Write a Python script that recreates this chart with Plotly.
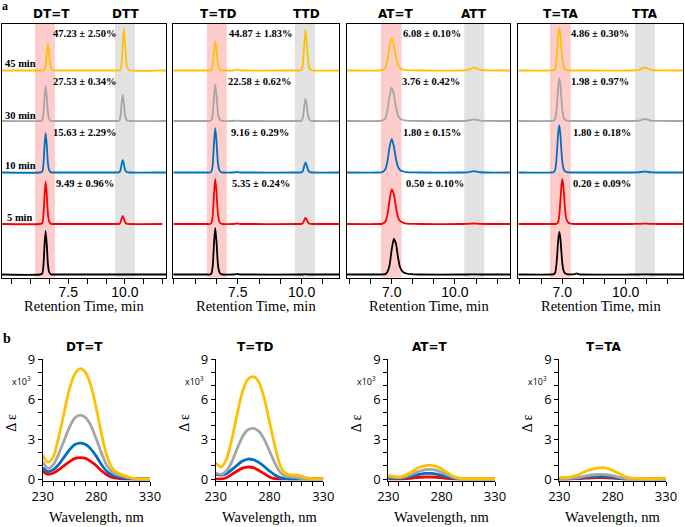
import plotly.graph_objects as go

W, H = 685, 527

def fx(px):
    return px / W

def fy(py):
    return 1 - py / H

# ---------------- Panel a: HPLC chromatograms (retention time, min) ----------------
DTT_TIME = [4.58, 6.25, 6.35, 6.4, 6.45, 6.5, 6.55, 6.6, 6.65, 6.7, 6.75, 6.8, 6.9, 7.1,
            9.6, 9.7, 9.75, 9.8, 9.85, 9.9, 9.95, 10.0, 10.05, 10.1, 10.2, 11.65, 11.81]
DTT_45MIN = [0, 0, 0, 0, 0.5, 4.4, 17, 26, 18, 6.5, 1.8, 0.5, 0, 0,
             0, 0, 0, 0.8, 7, 27, 42, 29, 10.5, 3, 0.3, 0, 0]
DTT_30MIN = [0, 0, 0.7, 6, 23, 35, 24.5, 8.8, 2.5, 0.7, 0, 0, 0, 0,
             0, 0, 0.5, 4.4, 17, 26, 18, 6.5, 1.8, 0.5, 0, 0, 0]
DTT_10MIN = [0, 0, 0.8, 6.7, 25.7, 39.5, 27.7, 9.9, 2.8, 0.8, 0, 0, 0, 0,
             0, 0, 0.25, 2.1, 8, 12.3, 8.6, 3.1, 0.9, 0.25, 0, 0, 0]
DTT_5MIN = [0, 0, 0.85, 7.2, 27.6, 42.5, 29.8, 10.6, 3, 0.85, 0, 0, 0, 0,
            0, 0, 0.15, 1.4, 5.2, 8, 5.6, 2, 0.55, 0.15, 0, 0, None]
DTT_0MIN = [0, 0, 0.9, 7.4, 28.3, 43.5, 30.5, 10.9, 3, 0.9, 0, 0, 0, 0,
            0, 0, 0, 0, 0, 0, 0, 0, 0, 0, 0, 0, 0]

TTD_TIME = [4.98, 6.32, 6.42, 6.47, 6.52, 6.57, 6.62, 6.67, 6.72, 6.77, 6.82, 6.92,
            7.3, 7.4, 7.47, 7.55, 7.7,
            9.85, 9.95, 10.0, 10.05, 10.1, 10.15, 10.2, 10.25, 10.3, 10.35, 10.45, 11.46]
TTD_45MIN = [0, 0, 0, 0.6, 4.9, 18.9, 29, 20.3, 7.3, 2, 0.6, 0,
             0, 0.3, 1.2, 0.3, 0,
             0, 0, 0.8, 6.9, 26.5, 40.7, 28.5, 10.2, 2.8, 0.8, 0, 0]
TTD_30MIN = [0, 0, 0, 0.7, 6.2, 23.9, 36.7, 25.7, 9.2, 2.6, 0.7, 0,
             0, 0.2, 0.4, 0.2, 0,
             0, 0, 0.4, 3.7, 14.3, 22, 15.4, 5.5, 1.5, 0.4, 0, 0]
TTD_10MIN = [0, 0, 0, 0.9, 7.5, 28.8, 44.3, 31, 11.1, 3.1, 0.9, 0,
             0, 0.2, 0.5, 0.2, 0,
             0, 0, 0.2, 1.7, 6.5, 10, 7, 2.5, 0.7, 0.2, 0, 0]
TTD_5MIN = [0, 0, 0, 0.9, 7.7, 29.3, 45, 31.5, 11.3, 3.2, 0.9, 0,
            0, 0.2, 0.5, 0.2, 0,
            0, 0, 0.1, 1, 3.9, 6, 4.2, 1.5, 0.4, 0.1, 0, 0]
TTD_0MIN = [0, 0, 0, 0.9, 7.9, 30.4, 46.7, 32.7, 11.7, 3.3, 0.9, 0,
            0, 0.2, 0.4, 0.2, 0,
            0, 0, 0, 0, 0.1, 0.3, 0.1, 0, 0, 0, 0, 0]

ATT_TIME = [4.88, 6.4, 6.55, 6.7, 6.8, 6.9, 7.0, 7.1, 7.2, 7.3, 7.4, 7.55, 7.7, 7.9, 8.3,
            10.3, 10.6, 10.75, 10.9, 11.05, 11.2, 11.5, 12.61]
ATT_45MIN = [0, 0, 0.3, 2.9, 10.7, 24.5, 32.3, 25.8, 13.6, 5.5, 2.3, 1, 0.3, 0.15, 0,
             0, 0.5, 1.8, 3, 1.9, 0.6, 0.1, 0]
ATT_30MIN = [0, 0, 0.3, 3, 11, 25.3, 33.3, 26.6, 14, 5.7, 2.3, 1, 0.3, 0.15, 0,
             0, 0.3, 1, 1.7, 1.1, 0.35, 0.05, 0]
ATT_10MIN = [0, 0, 0.35, 3.2, 11.5, 25.8, 33.7, 26.5, 13.8, 5.6, 2.3, 1, 0.3, 0.15, 0,
             0, 0.2, 0.8, 1.3, 0.8, 0.25, 0, 0]
ATT_5MIN = [0, 0, 0.2, 2.4, 9.5, 24, 34.5, 30, 17, 7, 2.8, 1.2, 0.4, 0.15, 0,
            0, 0.1, 0.3, 0.5, 0.3, 0.1, 0, 0]
ATT_0MIN = [0, 0, 0.05, 0.4, 2.7, 9.5, 25, 35.5, 31, 17, 7, 2.2, 1, 0.3, 0,
            0, 0, 0.1, 0.2, 0.1, 0, 0, 0]

TTA_TIME = [4.92, 6.5, 6.6, 6.66, 6.71, 6.76, 6.81, 6.86, 6.91, 6.96, 7.0, 7.05, 7.1, 7.15,
            7.2, 7.3, 7.45, 7.6, 7.68, 7.76, 7.9,
            10.3, 10.6, 10.75, 10.9, 11.05, 11.2, 11.5, 12.71]
TTA_45MIN = [0, 0, 0.4, 1.7, 7.2, 19.5, 34.7, 42.3, 36, 22, 11.5, 4.8, 1.9, 0.9,
             0.4, 0.2, 0, 0, 0, 0, 0,
             0, 0.5, 1.8, 3, 1.9, 0.6, 0.1, 0]
TTA_30MIN = [0, 0, 0.4, 1.7, 7.3, 19.7, 35, 42.7, 36.3, 22.2, 11.6, 4.8, 1.9, 0.9,
             0.4, 0.2, 0, 0, 0, 0, 0,
             0, 0.3, 1.2, 2, 1.3, 0.4, 0.05, 0]
TTA_10MIN = [0, 0, 0.6, 2.5, 9.5, 24, 40.5, 47, 38, 22, 11, 4.5, 1.8, 0.9,
             0.4, 0.2, 0, 0, 0, 0, 0,
             0, 0.15, 0.6, 1, 0.6, 0.2, 0, 0]
TTA_5MIN = [0, 0, 0, 0, 0.2, 0.7, 2.3, 9, 23, 38, 45, 38, 23.4, 10.8,
            4.5, 1, 0.2, 0, 0, 0, 0,
            0, 0.1, 0.25, 0.4, 0.25, 0.1, 0, 0]
TTA_0MIN = [0, 0, 0.4, 1.7, 7.3, 19.7, 35, 42.7, 36.3, 22.2, 11.6, 4.8, 1.9, 0.9,
            0.4, 0.2, 0.1, 0.4, 1.2, 0.4, 0,
            0, 0, 0.1, 0.2, 0.1, 0, 0, 0]

DTT_PCT = ["47.23 ± 2.50%", "27.53 ± 0.34%", "15.63 ± 2.29%", "9.49 ± 0.96%"]
TTD_PCT = ["44.87 ± 1.83%", "22.58 ± 0.62%", "9.16 ± 0.29%", "5.35 ± 0.24%"]
ATT_PCT = ["6.08 ± 0.10%", "3.76 ± 0.42%", "1.80 ± 0.15%", "0.50 ± 0.10%"]
TTA_PCT = ["4.86 ± 0.30%", "1.98 ± 0.97%", "1.80 ± 0.18%", "0.20 ± 0.09%"]
TIME_LABELS = ["45 min", "30 min", "10 min", "5 min"]

# ---------------- Panel b: CD spectra ----------------
WAVELENGTH = [230, 235, 240, 245, 250, 255, 260, 265, 270, 275, 280, 285, 290, 295, 300,
              305, 310, 315, 320, 325, 330]
CD_DTT_45 = [1.8, 1.25, 1.7, 3.2, 5.0, 6.8, 7.9, 8.3, 8.0, 7.0, 5.3, 3.3, 1.7, 0.8, 0.45,
             0.3, 0.15, 0.05, 0, 0, 0]
CD_DTT_30 = [1.3, 0.8, 1.1, 1.9, 2.9, 3.9, 4.6, 4.8, 4.6, 4.0, 3.0, 1.9, 1.0, 0.5, 0.3,
             0.2, 0.1, 0.03, 0, 0, 0]
CD_DTT_10 = [0.85, 0.55, 0.7, 1.1, 1.65, 2.2, 2.6, 2.7, 2.6, 2.25, 1.7, 1.05, 0.55, 0.3, 0.15,
             0.08, 0.03, 0, 0, 0, 0]
CD_DTT_5 = [0.6, 0.35, 0.45, 0.7, 1.0, 1.3, 1.55, 1.6, 1.55, 1.3, 1.0, 0.6, 0.3, 0.12, 0.05,
            0, 0, 0, 0, 0, 0]

CD_TTD_45 = [1.2, 0.9, 1.5, 3.0, 4.9, 6.6, 7.5, 7.7, 7.3, 6.1, 4.3, 2.5, 1.0, 0.4, 0.3,
             0.3, 0.2, 0.08, 0.03, 0, 0]
CD_TTD_30 = [0.45, 0.35, 0.6, 1.3, 2.3, 3.2, 3.7, 3.8, 3.6, 3.0, 2.1, 1.2, 0.5, 0.2, 0.15,
             0.1, 0.05, 0, 0, 0, 0]
CD_TTD_10 = [0.35, 0.3, 0.4, 0.7, 1.05, 1.35, 1.5, 1.45, 1.25, 0.95, 0.6, 0.3, 0.1, 0.03, 0,
             0, 0, 0, 0, 0, 0]
CD_TTD_5 = [0, 0, 0.1, 0.35, 0.6, 0.82, 0.9, 0.85, 0.65, 0.4, 0.15, 0.02, 0, 0, 0,
            0, 0, 0, 0, 0, 0]

CD_ATT_45 = [0.3, 0.2, 0.15, 0.25, 0.45, 0.7, 0.9, 1.0, 1.05, 0.95, 0.75, 0.5, 0.25, 0.08, 0.03,
             0.03, 0.03, 0.03, 0.03, 0.03, 0.03]
CD_ATT_30 = [0.2, 0.12, 0.1, 0.15, 0.3, 0.45, 0.6, 0.7, 0.72, 0.65, 0.5, 0.33, 0.15, 0.05, 0.05,
             0.05, 0.05, 0.05, 0.05, 0.05, 0.05]
CD_ATT_10 = [0.1, 0.05, 0.05, 0.1, 0.18, 0.28, 0.36, 0.42, 0.42, 0.37, 0.28, 0.17, 0.07, 0.02, 0,
             0, 0, 0, 0, 0, 0]
CD_ATT_5 = [0, 0, 0, 0.02, 0.05, 0.1, 0.13, 0.15, 0.15, 0.13, 0.1, 0.05, 0.02, 0, 0,
            0, 0, 0, 0, 0, 0]

CD_TTA_45 = [0.1, 0.12, 0.15, 0.25, 0.4, 0.58, 0.72, 0.82, 0.85, 0.8, 0.65, 0.45, 0.25, 0.1, 0.05,
             0.05, 0.03, 0.03, 0.03, 0.03, 0.08]
CD_TTA_30 = [0.02, 0.02, 0.04, 0.08, 0.15, 0.23, 0.3, 0.34, 0.35, 0.32, 0.25, 0.15, 0.07, 0.02, 0,
             0, 0, 0, 0, 0, 0]
CD_TTA_10 = [0, 0, 0.02, 0.04, 0.08, 0.13, 0.17, 0.2, 0.2, 0.18, 0.13, 0.07, 0.02, 0, 0,
             0, 0, 0, 0, 0, 0]
CD_TTA_5 = [0, 0, 0, 0.01, 0.03, 0.06, 0.08, 0.1, 0.1, 0.09, 0.06, 0.03, 0, 0, 0,
            0, 0, 0, 0, 0, 0]

# ---------------- styling ----------------
C_45, C_30, C_10, C_5, C_0 = "#FFC000", "#A5A5A5", "#0070C0", "#FF0000", "#000000"
SERIF = "Liberation Serif"
SANS = "Liberation Sans"
HEAD = "DejaVu Sans"
CALI = "Open Sans"

fig = go.Figure()
annotations = []
shapes = []

TOP_Y0, TOP_Y1 = 277.5, 24.0
Y_RANGE_TOP = [0, 253.5]
OFFSETS = [207, 156.5, 105, 53.5, 3]  # baselines for 45, 30, 10, 5, 0 min

minor_25 = [5.0, 5.8333, 6.6667, 7.5, 8.3333, 9.1667, 10.0, 10.8333, 11.6667]
major_25 = [7.5, 10.0]
text_25 = ["7.5", "10.0"]
minor_1 = [5, 6, 7, 8, 9, 10, 11, 12]
major_1 = [7, 10]
text_1 = ["7.0", "10.0"]

top_panels = [
    dict(l=2, r=166, rng=[4.577, 11.81], mn=minor_25, tv=major_25, tt=text_25,
         pink=(6.03, 6.91), gray=(9.56, 10.44),
         t=DTT_TIME, ys=[DTT_45MIN, DTT_30MIN, DTT_10MIN, DTT_5MIN, DTT_0MIN],
         pct=DTT_PCT, pctx=[84.5, 84.5, 84.5, 85], heads=[("DT=T", 51.7), ("DTT", 125.3)]),
    dict(l=173.3, r=339, rng=[4.98, 11.46], mn=minor_25, tv=major_25, tt=text_25,
         pink=(6.29, 7.07), gray=(9.74, 10.52),
         t=TTD_TIME, ys=[TTD_45MIN, TTD_30MIN, TTD_10MIN, TTD_5MIN, TTD_0MIN],
         pct=TTD_PCT, pctx=[260.7, 260, 260, 261.3], heads=[("T=TD", 218.3), ("TTD", 306.7)]),
    dict(l=347, r=510, rng=[4.88, 12.61], mn=minor_1, tv=major_1, tt=text_1,
         pink=(6.49, 7.47), gray=(10.44, 11.39),
         t=ATT_TIME, ys=[ATT_45MIN, ATT_30MIN, ATT_10MIN, ATT_5MIN, ATT_0MIN],
         pct=ATT_PCT, pctx=[432.2, 431.3, 432, 435], heads=[("AT=T", 395.7), ("ATT", 474.3)]),
    dict(l=518.3, r=683, rng=[4.92, 12.71], mn=minor_1, tv=major_1, tt=text_1,
         pink=(6.42, 7.40), gray=(10.44, 11.39),
         t=TTA_TIME, ys=[TTA_45MIN, TTA_30MIN, TTA_10MIN, TTA_5MIN, TTA_0MIN],
         pct=TTA_PCT, pctx=[600.3, 600.3, 601.7, 602], heads=[("T=TA", 560), ("TTA", 644.7)]),
]
colors = [C_45, C_30, C_10, C_5, C_0]
pct_y = [33.5, 81, 132, 183.3]

layout_axes = {}
for i, p in enumerate(top_panels):
    n = i + 1
    xa = "x" if n == 1 else f"x{n}"
    ya = "y" if n == 1 else f"y{n}"
    for ys, col, off in zip(p["ys"], colors, OFFSETS):
        fig.add_trace(go.Scatter(
            x=p["t"], y=[None if v is None else v + off for v in ys],
            mode="lines", line=dict(color=col, width=1.8, shape="spline", smoothing=0.6),
            xaxis=xa, yaxis=ya, showlegend=False, hoverinfo="skip"))
    layout_axes[f"xaxis{'' if n == 1 else n}"] = dict(
        domain=[fx(p["l"]), fx(p["r"])], range=p["rng"], anchor=ya, automargin=False,
        showline=True, linecolor="black", linewidth=1.2, mirror=True,
        ticks="outside", ticklen=5, tickcolor="black", tickwidth=1,
        tickmode="array", tickvals=p["tv"], ticktext=p["tt"], ticklabelstandoff=-4,
        minor=dict(tickmode="array", tickvals=p["mn"], ticks="outside", ticklen=5,
                   tickcolor="black", tickwidth=1, showgrid=False),
        showgrid=False, zeroline=False,
        tickfont=dict(family=SANS, size=14, color="black"))
    layout_axes[f"yaxis{'' if n == 1 else n}"] = dict(
        domain=[fy(TOP_Y0), fy(TOP_Y1)], range=Y_RANGE_TOP, anchor=xa, automargin=False,
        showline=True, linecolor="black", linewidth=1.2, mirror=True,
        showticklabels=False, ticks="", showgrid=False, zeroline=False)
    for (a, b), colr in [(p["pink"], "#FFCCCC"), (p["gray"], "#E2E2E2")]:
        shapes.append(dict(type="rect", xref=xa, yref=f"{ya} domain", x0=a, x1=b, y0=0, y1=1,
                           fillcolor=colr, line=dict(width=0), layer="below"))
    for txt, px_ in p["heads"]:
        annotations.append(dict(text=f"<b>{txt}</b>", x=fx(px_), y=fy(14), xref="paper", yref="paper",
                                showarrow=False, xanchor="center", yanchor="middle",
                                font=dict(family=HEAD, size=12, color="black")))
    for txt, px_, py_ in zip(p["pct"], p["pctx"], pct_y):
        annotations.append(dict(text=f"<b>{txt}</b>", x=fx(px_), y=fy(py_), xref="paper", yref="paper",
                                showarrow=False, xanchor="center", yanchor="middle",
                                font=dict(family=SERIF, size=10.5, color="black")))
    annotations.append(dict(text="Retention Time, min", x=fx((p["l"] + p["r"]) / 2), y=fy(306),
                            xref="paper", yref="paper", showarrow=False, xanchor="center",
                            yanchor="middle", font=dict(family=SERIF, size=14.5, color="black")))

for txt, px_, py_ in zip(TIME_LABELS, [3, 3, 3, 5], [63.3, 115, 165, 217.3]):
    annotations.append(dict(text=f"<b>{txt}</b>", x=fx(px_), y=fy(py_), xref="paper", yref="paper",
                            showarrow=False, xanchor="left", yanchor="middle",
                            font=dict(family=SERIF, size=10.5, color="black")))

# bottom panels
BOT_Y0, BOT_Y1 = 480.6, 359.3
bottom_panels = [
    dict(l=42.7, r=150, ys=[CD_DTT_5, CD_DTT_10, CD_DTT_30, CD_DTT_45], title=("DT=T", 84)),
    dict(l=215.7, r=323.3, ys=[CD_TTD_5, CD_TTD_10, CD_TTD_30, CD_TTD_45], title=("T=TD", 255)),
    dict(l=388.3, r=495, ys=[CD_ATT_5, CD_ATT_10, CD_ATT_30, CD_ATT_45], title=("AT=T", 430)),
    dict(l=559.3, r=666, ys=[CD_TTA_5, CD_TTA_10, CD_TTA_30, CD_TTA_45], title=("T=TA", 603.3)),
]
cd_colors = [C_5, C_10, C_30, C_45]
wl_minor = list(range(230, 331, 10))
wl_major = [230, 280, 330]
de_minor = list(range(0, 10))
de_major = [0, 3, 6, 9]

for i, p in enumerate(bottom_panels):
    n = i + 5
    xa, ya = f"x{n}", f"y{n}"
    for ys, col in zip(p["ys"], cd_colors):
        fig.add_trace(go.Scatter(
            x=WAVELENGTH, y=ys, mode="lines",
            line=dict(color=col, width=2.8, shape="spline", smoothing=0.8),
            xaxis=xa, yaxis=ya, showlegend=False, hoverinfo="skip"))
    layout_axes[f"xaxis{n}"] = dict(
        domain=[fx(p["l"]), fx(p["r"])], range=[230, 330], anchor=ya, automargin=False,
        showline=True, linecolor="black", linewidth=1, ticks="outside", ticklen=4,
        tickcolor="black", tickmode="array", tickvals=wl_major, ticktext=[str(v) for v in wl_major],
        minor=dict(tickmode="array", tickvals=wl_minor, ticks="outside", ticklen=4,
                   tickcolor="black", showgrid=False),
        showgrid=False, zeroline=False,
        tickfont=dict(family=CALI, size=13, color="black"))
    layout_axes[f"yaxis{n}"] = dict(
        domain=[fy(BOT_Y0), fy(BOT_Y1)], range=[-0.12, 9], anchor=xa, automargin=False,
        showline=True, linecolor="black", linewidth=1, ticks="outside", ticklen=4,
        tickcolor="black", tickmode="array", tickvals=de_major, ticktext=[str(v) for v in de_major],
        minor=dict(tickmode="array", tickvals=de_minor, ticks="outside", ticklen=4,
                   tickcolor="black", showgrid=False),
        showgrid=False, zeroline=False,
        tickfont=dict(family=CALI, size=13, color="black"))
    annotations.append(dict(text=f"<b>{p['title'][0]}</b>", x=fx(p["title"][1]), y=fy(347),
                            xref="paper", yref="paper", showarrow=False, xanchor="center",
                            yanchor="middle", font=dict(family=HEAD, size=12, color="black")))
    annotations.append(dict(text="x10<sup>3</sup>", x=fx(p["l"] - 21.5), y=fy(381),
                            xref="paper", yref="paper", showarrow=False, xanchor="center",
                            yanchor="middle", font=dict(family=CALI, size=9, color="black")))
    annotations.append(dict(text="Δ ε", x=fx(p["l"] - 32), y=fy(423), textangle=-90,
                            xref="paper", yref="paper", showarrow=False, xanchor="center",
                            yanchor="middle", font=dict(family=SERIF, size=14, color="black")))
    annotations.append(dict(text="Wavelength, nm", x=fx((p["l"] + p["r"]) / 2), y=fy(517),
                            xref="paper", yref="paper", showarrow=False, xanchor="center",
                            yanchor="middle", font=dict(family=SERIF, size=14.5, color="black")))

annotations.append(dict(text="<b>a</b>", x=fx(5), y=fy(6.5), xref="paper", yref="paper",
                        showarrow=False, xanchor="center", yanchor="middle",
                        font=dict(family=SERIF, size=12, color="black")))
annotations.append(dict(text="<b>b</b>", x=fx(6.5), y=fy(338), xref="paper", yref="paper",
                        showarrow=False, xanchor="center", yanchor="middle",
                        font=dict(family=SERIF, size=14, color="black")))

fig.update_layout(template="none", width=W, height=H, autosize=False,
                  margin=dict(l=0, r=0, t=0, b=0, pad=0),
                  paper_bgcolor="white", plot_bgcolor="white",
                  annotations=annotations, shapes=shapes, **layout_axes)

fig.write_html("out.html", include_plotlyjs=True,
               config={"displayModeBar": False, "staticPlot": True},
               post_script="document.body.style.margin='0';document.body.style.padding='0';")
